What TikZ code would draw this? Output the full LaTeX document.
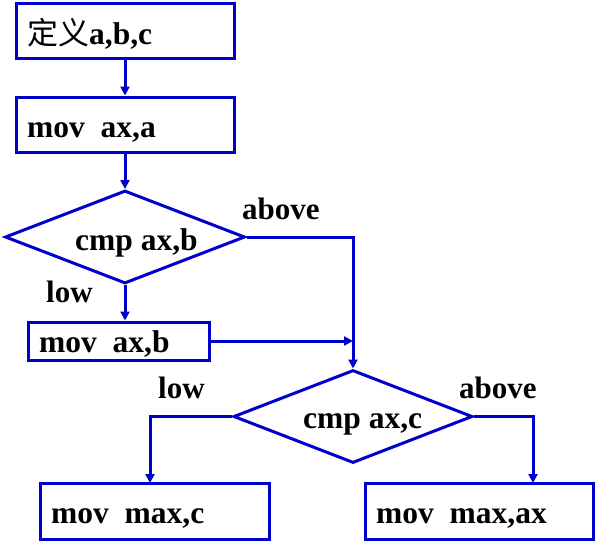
\documentclass[tikz,border=0pt]{standalone}
\usepackage{fontspec}
\setmainfont{Liberation Serif}
\newfontfamily\cjk{Noto Sans CJK SC}
\usetikzlibrary{shapes.geometric,arrows.meta}
\definecolor{fcblue}{RGB}{0,0,204}
\tikzset{
  box/.style={draw=fcblue,line width=3pt,rectangle,inner sep=0pt},
  dia/.style={draw=fcblue,line width=3pt,diamond,inner sep=0pt},
  txt/.style={anchor=base west,inner sep=0pt,font=\fontsize{31.5}{31.5}\selectfont\bfseries},
  lbl/.style={anchor=base west,inner sep=0pt,font=\fontsize{31}{31}\selectfont\bfseries},
  conn/.style={draw=fcblue,line width=3pt},
  arr/.style={conn,-{Triangle[length=9pt,width=9pt]}}
}
\begin{document}
\begin{tikzpicture}[x=1pt,y=-1pt]
\useasboundingbox (0,0) rectangle (596,549);
% boxes
\node[box,minimum width=218pt,minimum height=55pt] (b1) at (125,30.5) {};
\node[box,minimum width=218pt,minimum height=55pt] (b2) at (125,124.5) {};
\node[dia,minimum width=240pt,minimum height=93pt] (d1) at (125,237) {};
\node[box,minimum width=181pt,minimum height=38pt] (b4) at (118.5,341) {};
\node[dia,minimum width=239pt,minimum height=93pt] (d2) at (353,416.5) {};
\node[box,minimum width=229pt,minimum height=56pt] (b6) at (154.5,511) {};
\node[box,minimum width=228pt,minimum height=56pt] (b7) at (479,511) {};
% texts
\node[txt] (t1) at (27,44) {{\cjk\fontsize{31}{31}\selectfont\mdseries 定义}a,b,c};
\node[txt] (t2) at (27,137) {mov\ \ ax,a};
\node[txt] (t3) at (75,250) {cmp ax,b};
\node[txt] (t4) at (39,352) {mov\ \ ax,b};
\node[txt] (t5) at (303,428) {cmp ax,c};
\node[txt] (t6) at (51,523) {mov\ \ max,c};
\node[txt] (t7) at (376,523) {mov\ \ max,ax};
% labels
\node[lbl] (l1) at (46,302) {low};
\node[lbl] (l2) at (242,219) {above};
\node[lbl] (l3) at (158,398) {low};
\node[lbl] (l4) at (459,398) {above};
% connector targets
\coordinate (c6) at (150,483);
\coordinate (c7) at (533,483);
% connectors
\draw[arr] (b1.south) -- (b2.north);
\draw[arr] (b2.south) -- (d1.north);
\draw[arr] (d1.south) -- (d1.south |- b4.north);
\draw[arr] (d1.east) -| (d2.north);
\draw[arr] (b4.east) -- (b4.east -| d2.north);
\draw[arr] (d2.west) -| (c6);
\draw[arr] (d2.east) -| (c7);
\end{tikzpicture}
\end{document}
